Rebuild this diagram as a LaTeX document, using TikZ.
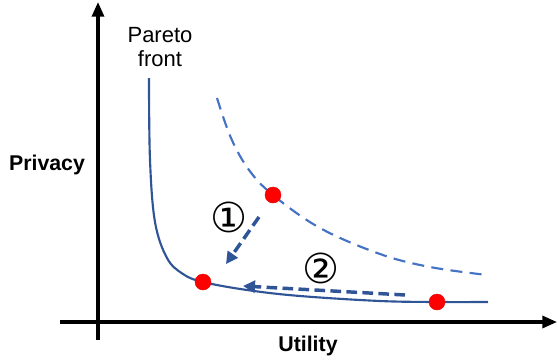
\documentclass[tikz,border=0pt]{standalone}
\usepackage{fontspec}
\setmainfont{Liberation Sans}
\newfontfamily\symfont{DejaVu Sans}
\usetikzlibrary{arrows.meta}
\definecolor{darkblue}{HTML}{2F5597}
\definecolor{midblue}{HTML}{4472C4}
\begin{document}
\begin{tikzpicture}[x=0.75pt,y=-0.75pt,
  axis/.style={line width=2.4pt,-{Triangle[length=11pt,width=9pt]}},
  lbl/.style={font=\fontsize{16.5}{18.5}\selectfont,align=center,inner sep=0pt},
  axlbl/.style={font=\bfseries\fontsize{16}{18}\selectfont,inner sep=0pt},
  dot/.style={circle,fill=red,draw=red!90!black,line width=0.3pt,minimum size=12pt,inner sep=0pt},
  movearrow/.style={darkblue,line width=2.6pt,dash pattern=on 8pt off 4pt,-{Triangle[length=9pt,width=9pt]}},
  numlbl/.style={font=\symfont\fontsize{31}{31}\selectfont,inner sep=0pt}]
\useasboundingbox (0,0) rectangle (558,362);
\coordinate (yb) at (98,340);
\coordinate (yt) at (98,2);
\coordinate (xl) at (60,322);
\coordinate (xr) at (557,322);
\draw[axis] (yb) -- (yt);
\draw[axis] (xl) -- (xr);
\node[axlbl] (priv) at (47,165) {Privacy};
\node[axlbl] (util) at (308,346) {Utility};
\node[lbl] (pf) at (160,47) {Pareto\\front};
% Pareto front (solid)
\draw[darkblue,line width=1.6pt] plot[smooth,tension=0.6] coordinates {(149,78) (150,160) (155,222) (167,258) (183,274) (203,282) (247,290) (300,296) (380,301) (437,302) (488,302)};
% dashed curve
\draw[midblue,line width=1.6pt,dash pattern=on 9pt off 5.5pt] plot[smooth,tension=0.6] coordinates {(217,98) (231,138) (249,170) (273,195) (320,228) (380,254) (430,267) (487,275)};
\node[dot] (p1) at (273,195) {};
\node[dot] (p2) at (203,282) {};
\node[dot] (p3) at (437,302) {};
\coordinate (a1s) at (259,217);
\coordinate (a1e) at (226,264);
\coordinate (a2s) at (405,295);
\coordinate (a2e) at (243,286);
\draw[movearrow] (a1s) -- (a1e);
\draw[movearrow] (a2s) -- (a2e);
\node[numlbl] (n1) at (229,217) {①};
\node[numlbl] (n2) at (321,268) {②};
\end{tikzpicture}
\end{document}
